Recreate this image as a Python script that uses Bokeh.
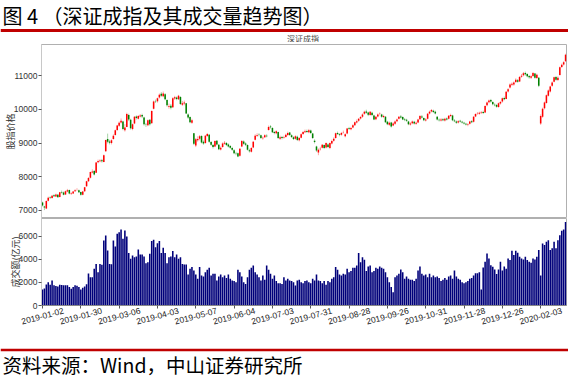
import numpy as np
from bokeh.plotting import figure
from bokeh.models import Range1d, FixedTicker, ColumnDataSource
from bokeh.layouts import column
from bokeh.embed import file_html
from bokeh.resources import INLINE
from bokeh.core.properties import value

# ---------------- data ----------------
title_text = "图 4 （深证成指及其成交量趋势图）"
source_text = "资料来源：Wind，中山证券研究所"
panel_title = "深证成指"
price_label = "股指价格"
volume_label = "成交额(亿元)"

# x tick positions are trading-day indexes; labels are their dates
tick_pos = [0, 20, 40, 60, 80, 100, 120, 140, 160, 180, 200, 220, 240, 260]
tick_labels = ["2019-01-02", "2019-01-30", "2019-03-06", "2019-04-03", "2019-05-07",
               "2019-06-04", "2019-07-03", "2019-07-31", "2019-08-28", "2019-09-26",
               "2019-10-31", "2019-11-28", "2019-12-26", "2020-02-03"]
price_ticks = [7000, 8000, 9000, 10000, 11000]
volume_ticks = [0, 2000, 4000, 6000]

opens = [
    7239, 7120, 7060, 7290, 7390, 7370, 7450, 7415, 7470, 7400,
    7545, 7530, 7475, 7560, 7610, 7495, 7505, 7570, 7605, 7600,
    7545, 7465, 7570, 7720, 7865, 7970, 8130, 8170, 8120, 8430,
    8460, 8490, 8440, 8760, 9120, 9050, 9000, 9120, 9240, 9390,
    9510, 9610, 9640, 9380, 9480, 9830, 9690, 9420, 9580, 9790,
    9720, 9790, 9830, 9760, 9550, 9530, 9690, 9590, 10020, 10250,
    10240, 10350, 10460, 10390, 10450, 10280, 10080, 10110, 10060, 10320,
    10350, 10300, 10370, 10140, 10170, 10180, 9850, 9770, 9600, 9290,
    8930, 9080, 9130, 9210, 9040, 9000, 9210, 9250, 9030, 8940,
    8900, 9070, 8950, 8810, 8880, 8980, 9000, 8960, 8910, 8850,
    8790, 8690, 8700, 8620, 8900, 9050, 8990, 8940, 8790, 8740,
    8870, 9100, 9210, 9250, 9230, 9140, 9170, 9220, 9390, 9490,
    9450, 9330, 9290, 9330, 9130, 9180, 9160, 9180, 9240, 9310,
    9230, 9170, 9130, 9190, 9080, 9160, 9270, 9320, 9360, 9320,
    9370, 9280, 9070, 8900, 8720, 8820, 8860, 8940, 8870, 8960,
    8850, 8990, 9070, 9150, 9300, 9260, 9250, 9310, 9200, 9280,
    9440, 9410, 9460, 9530, 9610, 9660, 9730, 9780, 9870, 9940,
    9910, 9830, 9900, 9820, 9710, 9790, 9860, 9850, 9770, 9780,
    9630, 9540, 9610, 9520, 9570, 9650, 9720, 9790, 9770, 9710,
    9690, 9640, 9550, 9590, 9630, 9570, 9610, 9710, 9790, 9740,
    9670, 9720, 9880, 9940, 9960, 9930, 9780, 9690, 9670, 9710,
    9670, 9730, 9720, 9800, 9820, 9670, 9640, 9610, 9660, 9630,
    9600, 9570, 9540, 9570, 9650, 9630, 9790, 9870, 9870, 9890,
    9920, 9910, 10120, 10210, 10280, 10220, 10140, 10130, 10070, 10170,
    10230, 10340, 10310, 10530, 10650, 10730, 10740, 10810, 10860, 10830,
    10970, 11010, 11080, 11050, 10990, 10940, 10990, 11060, 10930, 10940,
    9580, 9780, 10030, 10190, 10400, 10530, 10700, 10820, 10960, 10870,
    11020, 11260, 11330, 11430,
]

highs = [
    7260, 7140, 7300, 7410, 7420, 7460, 7480, 7500, 7490, 7550,
    7590, 7560, 7590, 7640, 7620, 7540, 7580, 7630, 7660, 7620,
    7560, 7580, 7700, 7880, 7990, 8150, 8220, 8200, 8440, 8510,
    8520, 8530, 8660, 9100, 9280, 9100, 9110, 9260, 9400, 9540,
    9640, 9730, 9660, 9560, 9900, 9870, 9720, 9580, 9800, 9820,
    9830, 9860, 9870, 9780, 9600, 9700, 9710, 9970, 10260, 10290,
    10350, 10470, 10510, 10530, 10480, 10300, 10170, 10160, 10360, 10400,
    10380, 10430, 10390, 10250, 10260, 10190, 9880, 9790, 9720, 9300,
    9150, 9200, 9240, 9230, 9080, 9240, 9300, 9270, 9060, 8970,
    9080, 9090, 8970, 8900, 9020, 9060, 9030, 8990, 8940, 8890,
    8820, 8740, 8720, 8850, 9090, 9080, 9020, 8960, 8830, 8880,
    9060, 9260, 9290, 9290, 9250, 9200, 9260, 9260, 9520, 9530,
    9470, 9360, 9380, 9340, 9220, 9210, 9220, 9280, 9340, 9330,
    9260, 9200, 9230, 9220, 9180, 9290, 9360, 9400, 9400, 9420,
    9400, 9300, 9110, 8920, 8840, 8890, 8970, 8960, 9020, 8990,
    9020, 9100, 9170, 9310, 9340, 9290, 9330, 9370, 9290, 9450,
    9480, 9480, 9560, 9640, 9700, 9740, 9800, 9880, 9960, 9990,
    9930, 9950, 9930, 9840, 9800, 9880, 9910, 9870, 9840, 9800,
    9660, 9640, 9630, 9620, 9670, 9730, 9800, 9830, 9790, 9740,
    9720, 9660, 9620, 9670, 9660, 9640, 9720, 9830, 9830, 9760,
    9740, 9890, 9960, 10010, 9990, 9960, 9800, 9730, 9740, 9740,
    9750, 9760, 9830, 9870, 9840, 9710, 9670, 9680, 9690, 9660,
    9630, 9600, 9590, 9660, 9680, 9800, 9880, 9920, 9930, 9950,
    9960, 10120, 10230, 10290, 10310, 10240, 10180, 10160, 10200, 10250,
    10350, 10380, 10540, 10630, 10770, 10800, 10830, 10920, 10900, 10990,
    11050, 11110, 11120, 11070, 11020, 11010, 11110, 11080, 11060, 10960,
    9850, 10050, 10230, 10440, 10590, 10700, 10830, 10970, 10990, 10980,
    11270, 11360, 11430, 11650,
]

lows = [
    7120, 7011, 7040, 7270, 7340, 7350, 7400, 7400, 7380, 7390,
    7500, 7450, 7460, 7540, 7480, 7460, 7490, 7550, 7580, 7520,
    7440, 7450, 7550, 7700, 7850, 7950, 8100, 8040, 8110, 8400,
    8430, 8420, 8430, 8740, 8990, 8960, 8960, 9100, 9220, 9360,
    9480, 9580, 9380, 9340, 9470, 9650, 9400, 9380, 9560, 9700,
    9700, 9760, 9740, 9520, 9480, 9500, 9520, 9580, 10000, 10190,
    10200, 10320, 10370, 10360, 10270, 10080, 10020, 10000, 10040, 10280,
    10270, 10280, 10130, 10100, 10120, 9860, 9720, 9590, 9570, 8940,
    8880, 9040, 9080, 8990, 8950, 8980, 9180, 9010, 8920, 8840,
    8880, 8930, 8790, 8780, 8860, 8950, 8910, 8870, 8830, 8770,
    8670, 8640, 8580, 8600, 8880, 8950, 8910, 8780, 8720, 8720,
    8850, 9080, 9180, 9200, 9120, 9100, 9150, 9170, 9370, 9430,
    9300, 9260, 9260, 9120, 9090, 9110, 9130, 9160, 9210, 9210,
    9150, 9090, 9100, 9060, 9050, 9140, 9240, 9300, 9300, 9290,
    9270, 9120, 8990, 8740, 8640, 8780, 8840, 8820, 8840, 8850,
    8820, 8960, 9040, 9130, 9240, 9200, 9220, 9280, 9170, 9260,
    9390, 9380, 9440, 9510, 9580, 9630, 9700, 9750, 9840, 9870,
    9800, 9810, 9800, 9680, 9680, 9760, 9820, 9750, 9740, 9600,
    9530, 9510, 9460, 9500, 9540, 9620, 9700, 9730, 9680, 9650,
    9630, 9530, 9520, 9560, 9550, 9540, 9590, 9690, 9730, 9650,
    9640, 9700, 9850, 9910, 9890, 9850, 9670, 9640, 9640, 9650,
    9640, 9670, 9700, 9770, 9650, 9620, 9570, 9580, 9610, 9580,
    9550, 9520, 9500, 9550, 9590, 9610, 9770, 9840, 9840, 9860,
    9860, 9890, 10090, 10180, 10200, 10120, 10090, 10050, 10050, 10140,
    10200, 10270, 10300, 10500, 10620, 10690, 10700, 10780, 10790, 10810,
    10940, 10980, 11000, 10950, 10910, 10900, 10960, 10910, 10900, 10660,
    9540, 9750, 10000, 10170, 10380, 10500, 10670, 10800, 10850, 10840,
    11000, 11230, 11300, 11410,
]

closes = [
    7149, 7089, 7284, 7380, 7374, 7440, 7422, 7474, 7394, 7540,
    7534, 7470, 7570, 7600, 7500, 7510, 7560, 7600, 7610, 7540,
    7470, 7560, 7690, 7870, 7960, 8140, 8160, 8070, 8420, 8470,
    8480, 8460, 8640, 9090, 9040, 9010, 9080, 9220, 9380, 9520,
    9600, 9660, 9420, 9460, 9860, 9700, 9440, 9560, 9780, 9740,
    9800, 9820, 9790, 9560, 9540, 9680, 9560, 9950, 10230, 10240,
    10330, 10430, 10400, 10470, 10300, 10120, 10100, 10050, 10330, 10360,
    10310, 10400, 10160, 10180, 10200, 9880, 9760, 9620, 9680, 8980,
    9110, 9120, 9200, 9020, 8990, 9220, 9270, 9040, 8950, 8880,
    9060, 8960, 8820, 8860, 8990, 9010, 8940, 8900, 8860, 8800,
    8700, 8680, 8600, 8830, 9060, 8980, 8950, 8800, 8760, 8850,
    9040, 9220, 9230, 9240, 9150, 9160, 9230, 9200, 9480, 9470,
    9320, 9300, 9350, 9150, 9170, 9150, 9170, 9250, 9300, 9240,
    9180, 9120, 9200, 9090, 9150, 9260, 9330, 9350, 9330, 9380,
    9300, 9150, 9030, 8780, 8800, 8830, 8950, 8850, 9000, 8880,
    9000, 9060, 9130, 9290, 9270, 9240, 9300, 9320, 9260, 9430,
    9420, 9450, 9530, 9620, 9650, 9720, 9770, 9850, 9930, 9900,
    9840, 9930, 9830, 9700, 9780, 9850, 9870, 9780, 9800, 9620,
    9560, 9600, 9490, 9580, 9640, 9700, 9780, 9760, 9700, 9690,
    9660, 9560, 9580, 9640, 9580, 9600, 9700, 9800, 9760, 9680,
    9700, 9870, 9930, 9980, 9920, 9880, 9700, 9680, 9700, 9680,
    9720, 9700, 9810, 9830, 9680, 9650, 9600, 9650, 9640, 9610,
    9580, 9550, 9560, 9640, 9620, 9780, 9860, 9880, 9900, 9910,
    9890, 10100, 10200, 10260, 10230, 10150, 10120, 10080, 10180, 10220,
    10330, 10300, 10520, 10600, 10740, 10760, 10800, 10880, 10820, 10960,
    11000, 11070, 11040, 10980, 10950, 10980, 11080, 10940, 11030, 10700,
    9800, 10020, 10200, 10420, 10560, 10680, 10800, 10950, 10880, 10940,
    11250, 11320, 11400, 11620,
]

# turnover, 100 million yuan
volume = [
    1400, 1480, 1830, 2030, 1800, 2180, 1750, 1700, 1650, 1800,
    1780, 1750, 1760, 1750, 1600, 1450, 1600, 1750, 1720, 1600,
    1400, 1550, 1650, 1850, 2780, 2460, 2460, 3200, 3600, 2900,
    3600, 3550, 5650, 6090, 4780, 3600, 3580, 5650, 5130, 6240,
    6380, 6600, 5800, 6530, 6000, 4560, 4060, 4350, 4200, 4260,
    4870, 4440, 4440, 4260, 3680, 3770, 4500, 5600, 5710, 5070,
    5420, 5600, 4560, 5020, 4560, 3680, 4200, 4260, 4730, 4200,
    4440, 4060, 4200, 3600, 3560, 3560, 2700, 3200,
    3340, 3040, 2700, 2320, 3340, 2610, 2520, 2900, 3100, 3280,
    2610, 2750, 2750, 2170, 2520, 2700, 2460, 2610, 2400, 2700,
    2320, 2170, 2120, 2030, 3100, 2900, 2520, 2030, 1880, 2460,
    3100, 3280, 3480, 2900, 2700, 2460, 2170, 2610, 2230, 3480,
    3100, 2750, 2320, 2610, 2120, 1940, 1940, 1880, 2460, 2170,
    2320, 2170, 2120, 2030, 1740, 2170, 2230, 2030, 1940, 2120,
    2170, 2030, 1940, 2320, 2170, 2700, 2170, 2120, 1940, 2120,
    1800, 2120, 2030, 2320, 2460, 3340, 3100, 2700, 2610, 2750,
    2700, 3190, 2900, 2990, 3280, 3280, 3480, 4560, 3770, 4200,
    3970, 2990, 3400, 3480, 2900, 2990, 3280, 3190, 3400, 3280,
    3190, 2900, 2460, 2030,
    1600, 1160,
    2460, 2610, 2750, 3140, 2900, 2320, 2520, 2320, 2230, 2230,
    2120, 2320, 3050, 3400, 2750, 2610, 2700, 2460, 2750, 2460,
    2610, 2460, 2520, 2400, 2120, 2230, 2400, 2230, 2520, 2610,
    2320, 3050, 2520, 2320, 2230, 2030, 1940, 2030, 2120, 2320,
    2400, 2610, 2810, 2810, 2900,
    1390,
    3310, 3800, 4530, 4090, 3510, 3370, 3140, 2730, 3140, 3800,
    3050, 3400, 3200, 4090, 3950, 4760, 4390, 4760, 4590, 4240,
    4090, 4000, 4240, 3950, 3800, 3720, 4090, 4000, 4240, 4820,
    2610,
    5400, 5250, 5540, 5680, 4820, 4970, 5540, 4970, 5680, 6110,
    6500, 6600, 7250,
]

assert len(opens) == len(highs) == len(lows) == len(closes) == len(volume), \
    (len(opens), len(highs), len(lows), len(closes), len(volume))

n = len(closes)
idx = list(range(n))

CJK = "Noto Sans CJK SC"
LAT = "Liberation Sans"
UP = "#ff0000"
DOWN = "#008000"

# ---------------- header (figure caption, rule, panel title) ----------------
header = figure(width=568, height=42, x_range=Range1d(0, 568), y_range=Range1d(42, 0),
                toolbar_location=None, output_backend="svg", min_border=0,
                x_axis_location=None, y_axis_location=None)
header.frame_align = False
header.grid.visible = False
header.outline_line_color = None
header.text(x=[2], y=[15], text=[title_text], text_font=value(CJK), text_font_size="20px",
            text_baseline="middle", text_align="left", text_color="#000000")
header.segment(x0=[0], y0=[30], x1=[568], y1=[30], line_color="#c00000", line_width=3)
header.text(x=[302.5], y=[37.5], text=[panel_title], text_font=value(CJK), text_font_size="8px",
            text_baseline="middle", text_align="center", text_color="#444444")


def style_y(ax, ticks, label):
    ax.ticker = FixedTicker(ticks=ticks)
    ax.major_label_text_font = LAT
    ax.major_label_text_font_size = "8.5px"
    ax.major_label_text_color = "#333333"
    ax.major_tick_out = 3
    ax.major_tick_in = 0
    ax.major_tick_line_color = "#555555"
    ax.minor_tick_line_color = None
    ax.axis_line_color = "#c8c8c8"
    ax.major_label_standoff = 1
    ax.axis_label = label
    ax.axis_label_text_font = CJK
    ax.axis_label_text_font_size = "9px"
    ax.axis_label_text_font_style = "normal"
    ax.axis_label_text_color = "#333333"
    ax.axis_label_standoff = -6


# ---------------- candlestick panel ----------------
xr = Range1d(-0.52, 273.48)

ptop = figure(width=568, height=176, x_range=xr, y_range=Range1d(6762, 11924),
              toolbar_location=None, output_backend="svg",
              min_border_left=39, min_border_right=2, min_border_top=2, min_border_bottom=0,
              x_axis_location=None)
ptop.grid.visible = False
ptop.outline_line_color = "#b0b0b0"

cols = [UP if c >= o else DOWN for o, c in zip(opens, closes)]
src = ColumnDataSource(dict(
    x=idx, h=highs, l=lows,
    top=[max(o, c) for o, c in zip(opens, closes)],
    bot=[min(o, c) for o, c in zip(opens, closes)],
    col=cols,
))
ptop.segment(x0="x", y0="l", x1="x", y1="h", source=src, line_color="col",
             line_alpha=0.35, line_width=1)
ptop.vbar(x="x", top="top", bottom="bot", width=0.8, source=src,
          fill_color="col", line_color=None)
style_y(ptop.yaxis[0], price_ticks, price_label)

# ---------------- volume panel ----------------
pbot = figure(width=568, height=112, x_range=xr, y_range=Range1d(0, 7565),
              toolbar_location=None, output_backend="svg",
              min_border_left=39, min_border_right=2, min_border_top=0, min_border_bottom=25)
pbot.grid.visible = False
pbot.outline_line_color = "#b0b0b0"
pbot.vbar(x=idx, top=volume, width=0.82, fill_color="#00007a", line_color=None)
style_y(pbot.yaxis[0], volume_ticks, volume_label)

# rotated date labels: Bokeh anchors a rotated label at its right end, so the label
# ticks sit a little to the right and the true tick marks are drawn as minor ticks
LABEL_SHIFT = 11
xa = pbot.xaxis[0]
xa.ticker = FixedTicker(ticks=[t + LABEL_SHIFT for t in tick_pos], minor_ticks=tick_pos)
xa.major_label_overrides = {t + LABEL_SHIFT: lab for t, lab in zip(tick_pos, tick_labels)}
xa.major_label_orientation = 0.26
xa.major_label_text_font = LAT
xa.major_label_text_font_size = "8.5px"
xa.major_label_text_color = "#222222"
xa.major_label_standoff = 2
xa.major_tick_line_color = None
xa.major_tick_out = 0
xa.major_tick_in = 0
xa.minor_tick_out = 3
xa.minor_tick_in = 0
xa.minor_tick_line_color = "#555555"
xa.axis_line_color = "#888888"

# ---------------- footer ----------------
footer = figure(width=568, height=48, x_range=Range1d(0, 568), y_range=Range1d(48, 0),
                toolbar_location=None, output_backend="svg", min_border=0,
                x_axis_location=None, y_axis_location=None)
footer.frame_align = False
footer.grid.visible = False
footer.outline_line_color = None
footer.segment(x0=[0], y0=[19.5], x1=[568], y1=[19.5], line_color="#c00000", line_width=2.5)
footer.text(x=[2], y=[34], text=[source_text], text_font=value(CJK), text_font_size="19.5px",
            text_baseline="middle", text_align="left", text_color="#000000")

layout = column(header, ptop, pbot, footer, spacing=0)

with open("out.html", "w") as f:
    f.write(file_html(layout, INLINE))
